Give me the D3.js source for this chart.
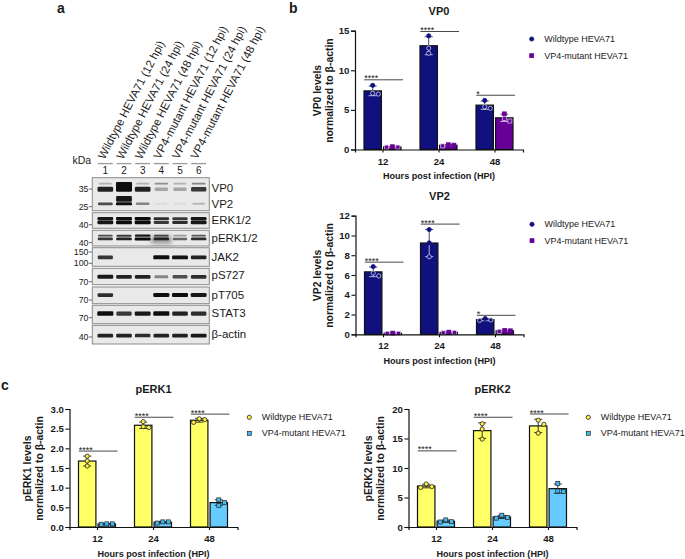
<!DOCTYPE html>
<html><head><meta charset="utf-8">
<script src="https://cdn.jsdelivr.net/npm/d3@7"></script>
<style>html,body{margin:0;padding:0;background:#fff}svg{display:block}text{font-family:"Liberation Sans",Arial,sans-serif;fill:#1a1a1a}</style>
</head><body><svg id="c" width="685" height="559"></svg>
<script>
// ---------- chart values ----------
const hours = ["12","24","48"];
const seriesNames = ["Wildtype HEVA71","VP4-mutant HEVA71"];
const vp0Wildtype = [[8.1,7.0,7.1],[14.35,12.8,12.15],[6.2,5.4,5.2]];
const vp0Mutant   = [[0.35,0.3,0.3],[0.55,0.6,0.45],[4.5,3.9,3.6]];
const vp2Wildtype = [[6.85,6.2,5.9],[10.6,9.25,7.85],[1.6,1.45,1.4]];
const vp2Mutant   = [[0.1,0.12,0.1],[0.15,0.22,0.18],[0.3,0.4,0.35]];
const perk1Wildtype = [[1.8,1.68,1.55],[2.68,2.53,2.55],[2.75,2.73,2.66]];
const perk1Mutant   = [[0.07,0.08,0.08],[0.1,0.13,0.13],[0.69,0.62,0.55]];
const perk2Wildtype = [[7.3,6.7,6.85],[17.5,16.6,14.9],[18.1,17.4,15.9]];
const perk2Mutant   = [[1.2,0.9,0.85],[2.0,1.6,1.5],[7.4,6.0,6.1]];
const vp0Sig  = [[8.8,"****"],[14.9,"****"],[6.85,"*"]];
const vp2Sig  = [[7.3,"****"],[11.15,"****"],[1.92,"*"]];
const perk1Sig = [[1.93,"****"],[2.79,"****"],[2.87,"****"]];
const perk2Sig = [[12.9,"****"],[18.6,"****"],[19.15,"****"]];
const vp0Ticks = [0,5,10,15], vp2Ticks=[0,2,4,6,8,10,12], perk1Ticks=[0,0.5,1,1.5,2,2.5,3], perk2Ticks=[0,5,10,15,20];

// ---------- blot values ----------
const laneNames = ["Wildtype HEVA71 (12 hpi)","Wildtype HEVA71 (24 hpi)","Wildtype HEVA71 (48 hpi)","VP4-mutant HEVA71 (12 hpi)","VP4-mutant HEVA71 (24 hpi)","VP4-mutant HEVA71 (48 hpi)"];
const laneNumbers = ["1","2","3","4","5","6"];
const blotLabels = ["VP0 / VP2","ERK1/2","pERK1/2","JAK2","pS727","pT705","STAT3","β-actin"];
// each row: [fraction down the panel, thickness, intensity per lane]
const blotVP  = [[0.18,2.5,[.25,.95,.25,.4,.25,.45]],[0.35,5,[.9,1,.9,.3,.3,.8]],[0.24,7,[0,1,0,0,0,0]],[0.79,3.2,[.7,1,.45,.06,.05,.22]],[0.64,6,[0,.95,0,0,0,0]]];
const blotERK = [[0.38,3.2,[.95,1,1,.85,.8,.95]],[0.62,3.6,[.95,1,1,.8,.85,.95]]];
const blotPERK= [[0.34,2.2,[.7,.8,.95,.7,.35,.65]],[0.55,3,[.8,.9,1,.85,.6,.85]],[0.6,10,[0,0,0,.4,0,0]]];
const blotJAK = [[0.52,4,[.8,0,0,1,.97,.9]]];
const blotPS  = [[0.52,4,[.95,.9,.9,.45,.7,.85]]];
const blotPT  = [[0.48,4,[.85,0,0,1,1,.95]]];
const blotST  = [[0.45,4.5,[1,.8,.95,1,.9,.85]]];
const blotAct = [[0.55,3.8,[.9,.9,.85,.9,.9,.95]]];
const markers = [["35",189],["25",206.7],["40",224.7],["40",242.6],["150",252],["100",263.3],["70",281.7],["70",300],["70",317.7],["40",337]];

const svg = d3.select("#c");
const defs = svg.append("defs");
defs.append("filter").attr("id","b").attr("x","-30%").attr("y","-100%").attr("width","160%").attr("height","300%")
  .append("feGaussianBlur").attr("stdDeviation","0.75");
defs.append("filter").attr("id","b2").attr("x","-50%").attr("y","-100%").attr("width","200%").attr("height","300%")
  .append("feGaussianBlur").attr("stdDeviation","2");

function txt(x,y,s,size,opt={}){
  return svg.append("text").attr("x",x).attr("y",y).attr("font-size",size)
    .attr("font-weight",opt.bold?"bold":"normal").attr("text-anchor",opt.anchor||"start")
    .attr("dominant-baseline","central").text(s);
}
txt(57,7.5,"a",14,{bold:true}); txt(289,7.5,"b",14,{bold:true}); txt(1,385,"c",14,{bold:true});

// ---------- panel a ----------
const panelX=[92.3,209.3];
const laneX = d3.scaleBand().domain(d3.range(6)).range([96,208]).paddingInner(0);
const panels=[[177.7,210.7,blotVP],[212.7,228.3,blotERK],[230.3,246,blotPERK],[247.7,266.3,blotJAK],[268.3,284.7,blotPS],[287,303.7,blotPT],[305.3,323.7,blotST],[325.3,344,blotAct]];
const labelY=[[ "VP0",188],["VP2",204],[blotLabels[1],220],[blotLabels[2],237.7],[blotLabels[3],257],[blotLabels[4],275],[blotLabels[5],295],[blotLabels[6],313],[blotLabels[7],333.5]];
panels.forEach(([y0,y1,rows])=>{
  svg.append("rect").attr("x",panelX[0]).attr("y",y0).attr("width",panelX[1]-panelX[0]).attr("height",y1-y0)
    .attr("fill","#e9e9e9").attr("stroke","#8a8a8a").attr("stroke-width",1);
  const py=d3.scaleLinear().domain([0,1]).range([y0,y1]);
  rows.forEach(([f,th,vals])=>{
    const wide = th>8;
    svg.append("g").selectAll("rect").data(vals.map((v,i)=>({v,i})).filter(d=>d.v>0)).join("rect")
      .attr("x",d=>laneX(d.i)+laneX.bandwidth()/2-(wide?10:8*(.75+.25*d.v)))
      .attr("width",d=>wide?20:16*(.75+.25*d.v))
      .attr("y",d=>py(f)-th*(.55+.45*d.v)/2).attr("height",d=>th*(.55+.45*d.v)).attr("rx",1.2)
      .attr("fill","#0a0a0a").attr("opacity",d=>d.v).attr("filter",wide?"url(#b2)":"url(#b)");
  });
});
labelY.forEach(([s,y])=>txt(211.5,y,s,11.5));
markers.forEach(([s,y])=>{
  txt(88.5,y,s,8.8,{anchor:"end"});
  svg.append("line").attr("x1",88.8).attr("x2",92).attr("y1",y).attr("y2",y).attr("stroke","#444").attr("stroke-width",.8);
});
txt(72.5,160,"kDa",10.5);
const labelStart=d3.scaleBand().domain(d3.range(6)).range([104.5,215.5]);
laneNames.forEach((s,i)=>{
  const cx=laneX(i)+laneX.bandwidth()/2;
  svg.append("line").attr("x1",cx-7.5).attr("x2",cx+7.5).attr("y1",163.6).attr("y2",163.6).attr("stroke","#9a9a9a").attr("stroke-width",1.3);
  txt(cx,170.5,laneNumbers[i],10,{anchor:"middle"});
  const x=labelStart(i), y=160;
  svg.append("text").attr("transform",`translate(${x},${y}) rotate(-62.6)`).attr("font-size",11.4).attr("fill","#333").text(s);
});

// ---------- panels b, c ----------
function swarm(vals,y,dx,minD){
  const placed=[];
  vals.map((v,i)=>({v,i})).sort((a,b)=>b.v-a.v).forEach(d=>{
    const py=y(d.v);
    for(const o of [0,1,-1]){
      if(placed.every(p=>Math.hypot(p.ox*dx-o*dx,p.py-py)>=minD)){placed.push({v:d.v,ox:o,py});return;}
    }
    placed.push({v:d.v,ox:0,py});
  });
  return placed;
}
function chart(c){
  const x=d3.scaleBand().domain(hours).range([c.left,c.left+168]);
  const xs=d3.scaleBand().domain(seriesNames).range([-18.7,18.3]).paddingInner(0.11);
  const y=d3.scaleLinear().domain([0,c.max]).range([c.bottom,c.bottom-c.h]);
  const g=svg.append("g");
  [c.a,c.b].forEach((data,si)=>{
    const name=seriesNames[si], st=c.styles[si];
    data.forEach((vals,gi)=>{
      const h=hours[gi], cx=x(h)+x.bandwidth()/2-0.3;
      const bx=cx+xs(name), m=d3.mean(vals), sd=d3.deviation(vals), mx=bx+xs.bandwidth()/2;
      g.append("rect").attr("x",bx).attr("y",y(m)).attr("width",xs.bandwidth()).attr("height",y(0)-y(m))
        .attr("fill",st.fill).attr("stroke","#111").attr("stroke-width",1.2);
      const up=st.dark, low=st.inner;
      const seg=(y1,y2,col)=>g.append("line").attr("x1",mx).attr("x2",mx).attr("y1",y1).attr("y2",y2).attr("stroke",col).attr("stroke-width",.9);
      const cap=(yy,col)=>g.append("line").attr("x1",mx-4).attr("x2",mx+4).attr("y1",yy).attr("y2",yy).attr("stroke",col).attr("stroke-width",.9);
      seg(y(m),y(m+sd),up); cap(y(m+sd),up);
      const lowY=y(Math.max(0,m-sd)); seg(y(m),lowY,low); cap(lowY,low);
      const pts=swarm(vals,y,5.6,4.6);
      pts.forEach(p=>{
        const px=mx+p.ox*5.6, onBar=p.v<m;
        const stroke=onBar?st.ring:st.ringUp;
        if(si===0) g.append("circle").attr("cx",px).attr("cy",p.py).attr("r",2.1).attr("fill",st.point).attr("stroke",stroke).attr("stroke-width",.8);
        else g.append("rect").attr("x",px-2).attr("y",p.py-2).attr("width",4).attr("height",4).attr("fill",st.point).attr("stroke",stroke).attr("stroke-width",.7);
      });
    });
  });
  const ax=svg.append("g").attr("transform",`translate(${c.left},0)`).call(d3.axisLeft(y).tickValues(c.ticks).tickSize(4).tickFormat(c.fmt));
  const bx=svg.append("g").attr("transform",`translate(0,${c.bottom})`).call(d3.axisBottom(x).tickSize(3));
  [ax,bx].forEach(a=>{
    a.select(".domain").attr("stroke","#111").attr("stroke-width",1.2);
    a.selectAll(".tick line").attr("stroke","#111").attr("stroke-width",1.1);
    a.selectAll("text").attr("font-size",9.6).attr("font-weight","bold").attr("fill","#111");
  });
  ax.selectAll("text").attr("dx","0.15em");
  bx.selectAll("text").attr("dy","0.95em");
  c.sig.forEach(([v,s],i)=>{
    const cx=x(hours[i])+x.bandwidth()/2;
    svg.append("line").attr("x1",cx-18.7).attr("x2",cx+20).attr("y1",y(v)).attr("y2",y(v)).attr("stroke","#333").attr("stroke-width",.9);
    svg.append("text").attr("x",cx-18.7).attr("y",y(v)+1.6).attr("font-size",9).attr("fill","#222").text(s);
  });
  txt(c.left+84,c.titleY,c.title,11,{bold:true,anchor:"middle"});
  txt(c.left+84,c.bottom+26.5,"Hours post infection (HPI)",9.1,{bold:true,anchor:"middle"});
  const cy=c.bottom-c.h/2+0.5;
  [[c.left-c.yOff,c.yl1],[c.left-c.yOff+12,"normalized to β-actin"]].forEach(([lx,s])=>{
    svg.append("text").attr("transform",`translate(${lx},${cy}) rotate(-90)`).attr("text-anchor","middle")
      .attr("dominant-baseline","central").attr("font-size",10.4).attr("font-weight","bold").text(s);
  });
  seriesNames.forEach((s,i)=>{
    const ly=c.legY+i*c.legStep, st=c.styles[i], lx=c.left+c.legX;
    if(i===0) svg.append("circle").attr("cx",lx).attr("cy",ly).attr("r",2.1).attr("fill",st.point).attr("stroke",st.ringUp).attr("stroke-width",.8);
    else svg.append("rect").attr("x",lx-2).attr("y",ly-2).attr("width",4).attr("height",4).attr("fill",st.point).attr("stroke",st.ringUp).attr("stroke-width",.7);
    txt(lx+12.5,ly,s,9).attr("fill","#333");
  });
}
const darkStyles=[{fill:"#10107f",point:"#10107f",dark:"#2a2a5a",inner:"#c9cbe6",ring:"#c9cbe6",ringUp:"#10107f"},
                  {fill:"#660099",point:"#660099",dark:"#444",inner:"#d8c6e6",ring:"#d8c6e6",ringUp:"#660099"}];
const lightStyles=[{fill:"#ffff66",point:"#ffee44",dark:"#222",inner:"#222",ring:"#222",ringUp:"#222"},
                   {fill:"#66ccff",point:"#44bbee",dark:"#222",inner:"#222",ring:"#222",ringUp:"#222"}];
const fmt0=d3.format("d"), fmt1=d3.format(".1f");
chart({left:355,bottom:149.5,h:118.8,max:15,a:vp0Wildtype,b:vp0Mutant,sig:vp0Sig,ticks:vp0Ticks,fmt:fmt0,title:"VP0",titleY:11,yl1:"VP0 levels",styles:darkStyles,legX:176.7,legY:39,legStep:16.7,yOff:38});
chart({left:355.5,bottom:334.3,h:118.6,max:12,a:vp2Wildtype,b:vp2Mutant,sig:vp2Sig,ticks:vp2Ticks,fmt:fmt0,title:"VP2",titleY:196,yl1:"VP2 levels",styles:darkStyles,legX:176.5,legY:224.3,legStep:16.4,yOff:38});
chart({left:69.5,bottom:527,h:118,max:3,a:perk1Wildtype,b:perk1Mutant,sig:perk1Sig,ticks:perk1Ticks,fmt:fmt1,title:"pERK1",titleY:389,yl1:"pERK1 levels",styles:lightStyles,legX:179.8,legY:417.3,legStep:16,yOff:42.5});
chart({left:408.5,bottom:527,h:118,max:20,a:perk2Wildtype,b:perk2Mutant,sig:perk2Sig,ticks:perk2Ticks,fmt:fmt0,title:"pERK2",titleY:389,yl1:"pERK2 levels",styles:lightStyles,legX:179.8,legY:417.3,legStep:16,yOff:40.5});
</script></body></html>
